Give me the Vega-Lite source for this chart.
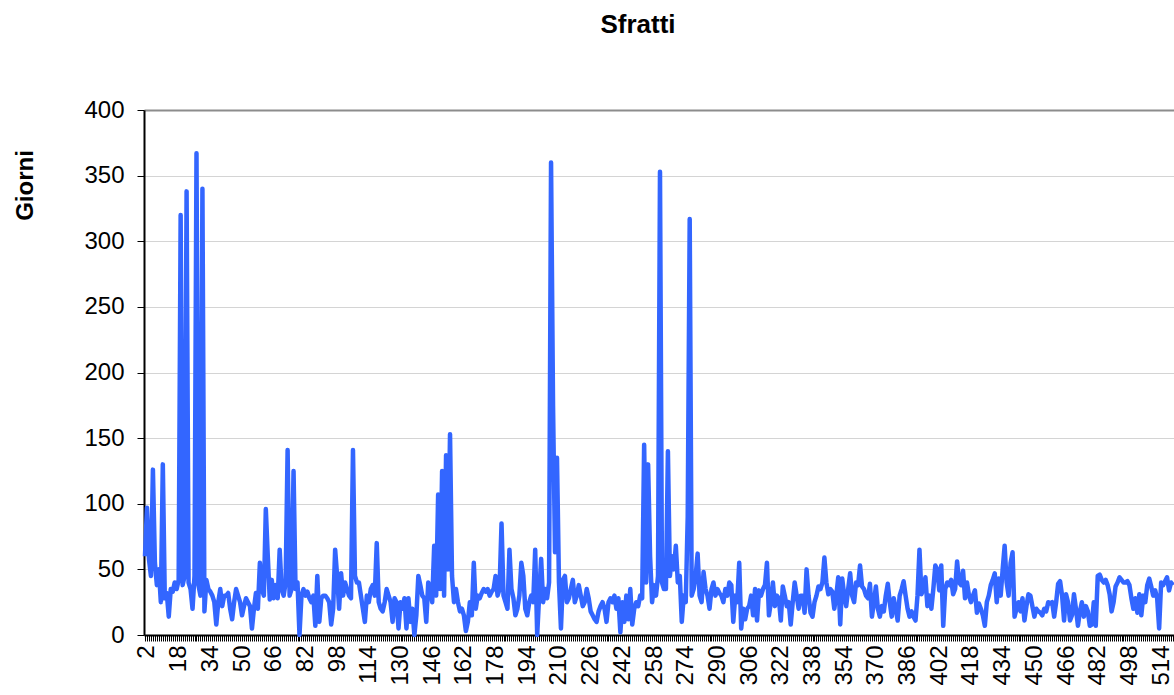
{
"$schema": "https://vega.github.io/schema/vega-lite/v6.json",
"autosize": "none",
"width": 1030,
"height": 525,
"padding": {"left": 144, "top": 110, "right": 0, "bottom": 60},
"background": "white",
"title": {"text": "Sfratti", "font": "Liberation Sans", "fontSize": 26, "fontWeight": "bold", "color": "black", "anchor": "middle", "dx": -21, "offset": 60},
"config": {"view": {"stroke": null}},
"datasets": {"s": [60,97,58,45,126,55,38,50,25,130,28,32,14,35,33,40,35,42,320,38,45,338,40,35,20,45,367,38,30,340,18,42,35,33,30,25,8,25,35,22,30,
30,32,20,12,25,35,30,25,15,22,28,25,22,5,20,32,20,55,35,30,96,60,27,42,28,38,28,65,35,30,40,141,30,35,125,35,40,0,30,35,30,33,28,25,
30,7,45,10,28,30,30,28,25,8,20,65,45,20,47,30,40,35,30,28,141,45,40,40,30,20,10,30,25,35,38,30,70,25,20,18,25,35,30,25,10,28,25,5,25,
20,28,5,28,10,20,0,15,45,38,30,28,10,40,35,25,68,30,107,35,125,30,137,50,153,45,25,35,25,18,20,15,3,10,25,15,55,20,30,28,32,35,33,35,
30,33,35,45,30,35,85,30,25,20,65,35,28,15,20,30,55,45,20,15,25,30,25,65,0,30,58,25,35,28,40,360,175,63,135,40,5,42,45,25,28,35,42,25,30,
38,30,22,25,35,28,18,15,12,10,18,22,25,20,10,25,28,25,30,20,28,2,25,10,30,12,35,8,20,25,22,30,28,145,40,130,60,25,38,30,45,353,40,35,
35,140,45,60,50,68,40,45,10,30,25,90,317,30,35,45,62,30,25,48,35,30,20,35,40,30,35,32,30,25,35,30,40,38,10,30,25,55,5,20,12,20,22,30,15,
35,11,34,30,35,38,55,15,25,40,22,30,28,11,37,30,22,25,8,25,40,30,20,30,30,17,50,30,17,14,25,30,37,35,40,59,40,31,35,33,20,30,44,8,
43,30,22,35,47,30,25,40,38,53,37,35,30,28,39,14,25,37,20,14,22,18,30,39,25,14,28,20,11,30,35,41,30,20,14,18,14,11,30,65,31,35,44,22,
30,20,35,53,50,34,53,7,35,40,38,42,31,35,56,40,38,49,28,40,30,25,30,34,17,24,20,15,7,25,30,38,42,47,25,43,30,50,68,40,30,55,63,14,20,
25,18,28,11,22,31,30,22,14,20,18,17,15,20,18,25,24,25,14,25,39,41,30,11,31,25,11,15,31,20,7,18,25,14,22,18,7,8,25,
7,45,46,42,40,42,38,31,18,25,37,40,44,42,40,40,41,38,28,20,28,17,31,15,30,25,38,43,37,30,34,28,5,40,38,41,44,34,40,38]},
"data": {"name": "s"},
"transform": [{"window": [{"op": "row_number", "as": "i"}]}],
"mark": {"type": "line", "color": "#3366ff", "strokeWidth": 4.5, "strokeJoin": "round"},
"encoding": {
 "x": {"field": "i", "type": "ordinal", "scale": {"type": "point", "padding": 0.5},
  "axis": {"title": null, "labelAngle": -90, "labelFontSize": 24, "labelFont": "Liberation Sans", "labelColor": "black",
   "labelExpr": "(datum.value - 2) % 16 === 0 ? datum.label : ''", "labelOverlap": false, "labelPadding": 4,
   "tickColor": "black", "tickSize": 6, "domainColor": "black", "domainWidth": 2, "grid": false}},
 "y": {"field": "data", "type": "quantitative", "scale": {"domain": [0, 400], "nice": false},
  "axis": {"title": "Giorni", "titleFont": "Liberation Sans", "titleFontSize": 24, "titleFontWeight": "bold", "titleColor": "black",
   "titleX": -119, "titleY": 75, "titleAngle": -90, "titleAlign": "center", "titleBaseline": "middle",
   "values": [0, 50, 100, 150, 200, 250, 300, 350, 400], "labelFontSize": 24, "labelFont": "Liberation Sans", "labelColor": "black",
   "tickSize": 7, "tickColor": "black", "labelPadding": 13, "domainColor": "black", "domainWidth": 2,
   "gridColor": {"condition": {"test": "datum.value === 400", "value": "#8c8c8c"}, "value": "#d4d4d4"},
   "gridWidth": {"condition": {"test": "datum.value === 400", "value": 2}, "value": 1}}}
}
}
